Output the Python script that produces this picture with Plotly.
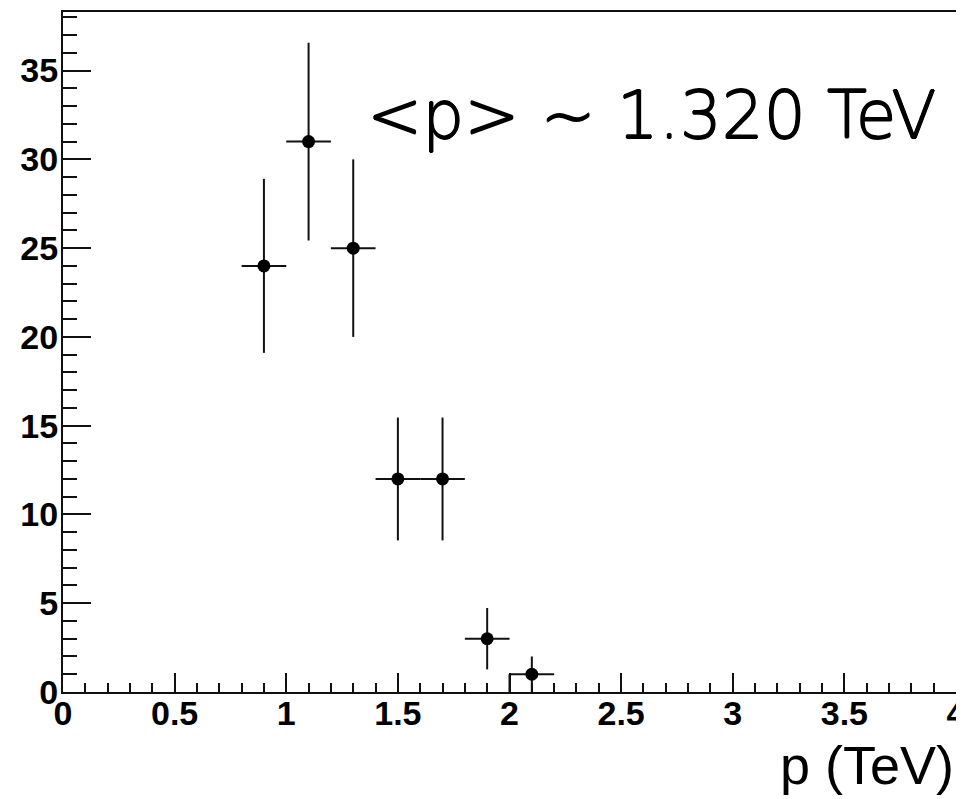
import plotly.graph_objects as go

# Data
p_centers = [0.9, 1.1, 1.3, 1.5, 1.7, 1.9, 2.1]
counts = [24, 31, 25, 12, 12, 3, 1]
count_err = [4.9, 5.57, 5.0, 3.46, 3.46, 1.73, 1.0]
bin_half_width = [0.1, 0.1, 0.1, 0.1, 0.1, 0.1, 0.1]
annotation_text = "<p> ~ 1.320 TeV"
x_title = "p (TeV)"
x_tickvals = [0, 0.5, 1, 1.5, 2, 2.5, 3, 3.5, 4]
x_ticktext = ["0", "0.5", "1", "1.5", "2", "2.5", "3", "3.5", "4"]
y_tickvals = [0, 5, 10, 15, 20, 25, 30, 35]

ink = "#111111"

fig = go.Figure()

# ROOT-style edge line at the low edge of the last filled bin
last_edge = p_centers[-1] - bin_half_width[-1]
fig.add_trace(go.Scatter(
    x=[last_edge, last_edge], y=[0, counts[-1]],
    mode="lines", line=dict(color=ink, width=2),
    hoverinfo="skip", showlegend=False,
))

fig.add_trace(go.Scatter(
    x=p_centers, y=counts,
    mode="markers",
    marker=dict(color="black", size=13, symbol="circle"),
    error_y=dict(type="data", array=count_err, visible=True,
                 color=ink, thickness=2, width=0),
    error_x=dict(type="data", array=bin_half_width, visible=True,
                 color=ink, thickness=2, width=0),
    showlegend=False,
))

tickfont = dict(family="Liberation Sans", size=34, color="black", weight="bold")
thicken = "0.8px 0 0 #000, -0.8px 0 0 #000, 0 0.8px 0 #000, 0 -0.8px 0 #000"

# the page body has an 8px margin, so the figure is 8px smaller than the window
fig.update_layout(
    width=956, height=791,
    margin=dict(l=55, r=8, t=4, b=107),
    paper_bgcolor="white", plot_bgcolor="white",
    showlegend=False,
    xaxis=dict(
        range=[0, 4], showgrid=False, zeroline=False, automargin=False,
        showline=True, mirror=True, linecolor=ink, linewidth=2,
        ticks="inside", ticklen=19, tickwidth=1.6, tickcolor=ink,
        tickvals=x_tickvals, ticktext=x_ticktext,
        tickfont=tickfont, ticklabelstandoff=-10, ticklabeloverflow="allow",
        minor=dict(dtick=0.1, ticks="inside", ticklen=9, tickwidth=1.6,
                   tickcolor=ink, showgrid=False),
    ),
    yaxis=dict(
        range=[0, 38.3], showgrid=False, zeroline=False, automargin=False,
        showline=True, mirror=True, linecolor=ink, linewidth=2,
        ticks="inside", ticklen=28, tickwidth=1.6, tickcolor=ink,
        tickvals=y_tickvals,
        tickfont=tickfont, ticklabelstandoff=-4, ticklabeloverflow="allow",
        minor=dict(dtick=1, ticks="inside", ticklen=14, tickwidth=1.6,
                   tickcolor=ink, showgrid=False),
    ),
    annotations=[
        dict(text=annotation_text, xref="paper", yref="paper",
             x=0.9795, y=0.848, xanchor="right", yanchor="middle",
             showarrow=False,
             font=dict(family="DejaVu Sans", size=66, color="black",
                       weight=200, shadow=thicken)),
        dict(text=x_title, xref="paper", yref="paper",
             x=1.0, y=-0.108, xanchor="right", yanchor="middle",
             showarrow=False,
             font=dict(family="Liberation Sans", size=54, color="black")),
    ],
)

fig.write_html("out.html")
